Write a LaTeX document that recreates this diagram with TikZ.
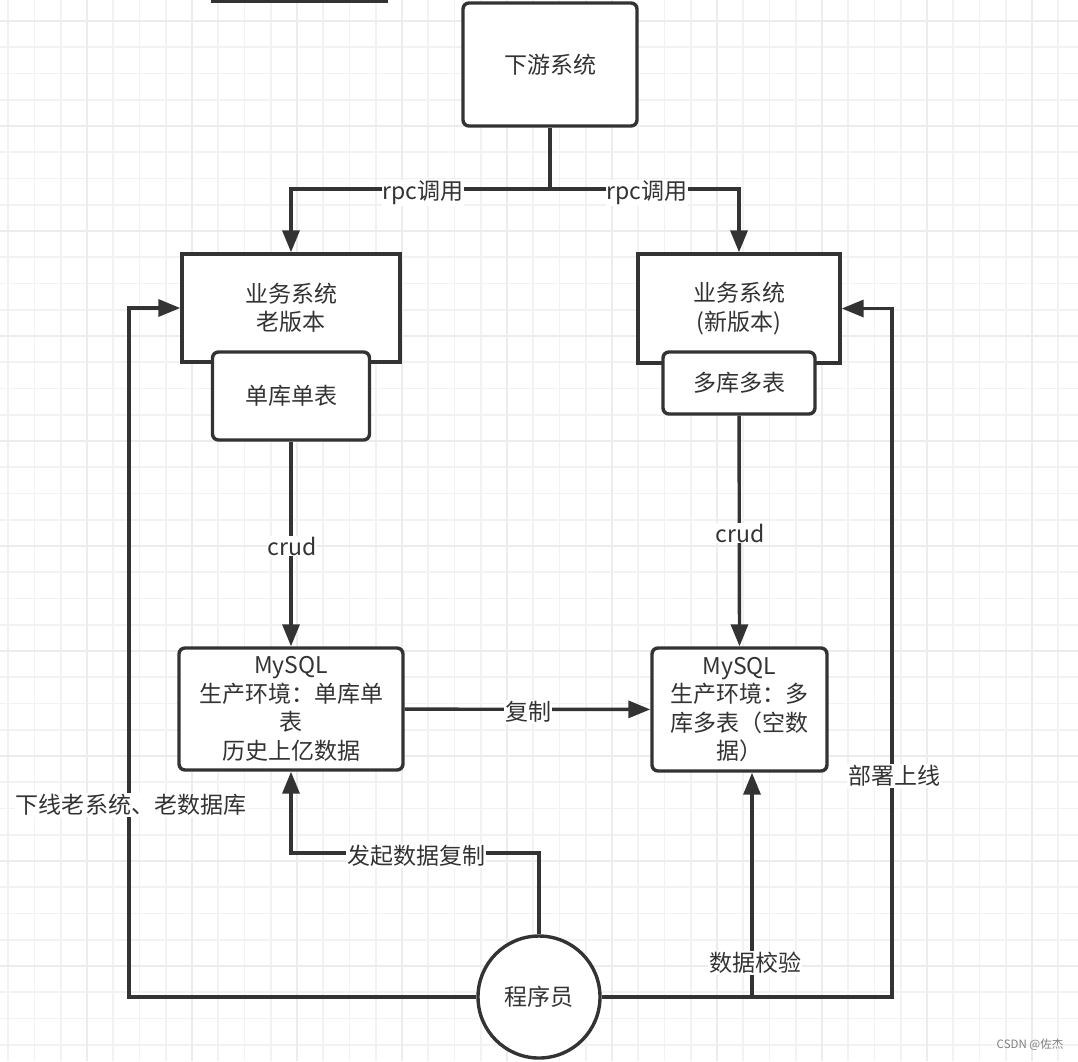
\documentclass[tikz,border=0pt]{standalone}
\usepackage{fontspec}
\setmainfont{Noto Sans CJK SC}
\usetikzlibrary{arrows.meta, positioning}
\definecolor{ink}{HTML}{333333}
\definecolor{gridminor}{HTML}{F2F2F2}
\definecolor{gridmajor}{HTML}{ECECEC}
\tikzset{
  box/.style={draw=ink, line width=3.4pt, fill=white, text=ink, inner sep=0pt, align=center,
    font=\fontsize{23}{28.5}\selectfont},
  roundbox/.style={box, rounded corners=6pt},
  lab/.style={fill=white, text=ink, inner sep=1pt, font=\fontsize{23}{28.5}\selectfont},
}
\begin{document}
\begin{tikzpicture}[x=1pt,y=-1pt,on grid,>={Triangle[length=22pt,width=17pt]}]
   \clip (0,0) rectangle (1078,1061);
   \fill[white] (0,0) rectangle (1078,1061);

   % Background grid
   \foreach \i in {0,...,41}
      \draw[gridminor, line width=1.6pt] (8.25+26.25*\i,0) -- (8.25+26.25*\i,1061);
   \foreach \i in {0,...,40}
      \draw[gridminor, line width=1.6pt] (0,21+26.25*\i-26.25) -- (1078,21+26.25*\i-26.25);
   \foreach \i in {0,...,9}
      \draw[gridmajor, line width=1.8pt] (87+105*\i,0) -- (87+105*\i,1061);
   \foreach \i in {0,...,10}
      \draw[gridmajor, line width=1.8pt] (0,21+105*\i) -- (1078,21+105*\i);

   % Boxes
   \node[box, minimum width=174pt, minimum height=60pt] (cropped) at (299.5,-29) {};
   \node[roundbox, minimum width=174pt, minimum height=123pt] (down) at (550,64.5) {下游系统};
   \node[box, minimum width=218pt, minimum height=108pt] (oldsys) at (291,308) {业务系统\\老版本};
   \node[box, minimum width=202pt, minimum height=109pt] (newsys) at (739,308.5) {业务系统\\(新版本)};
   \node[roundbox, minimum width=157pt, minimum height=88pt] (single) [below=88pt of oldsys] {单库单表};
   \node[roundbox, minimum width=152pt, minimum height=62pt] (multi) [below=74.5pt of newsys] {多库多表};
   \node[roundbox, minimum width=224pt, minimum height=122pt] (mysqlold) at (291,709) {MySQL\\生产环境：单库单\\表\\历史上亿数据};
   \node[roundbox, minimum width=175pt, minimum height=123pt] (mysqlnew) at (739.5,709.5) {MySQL\\生产环境：多\\库多表（空数\\据）};
   \node[box, circle, minimum size=122pt] (prog) at (539,997) {程序员};

   \coordinate (split) at (550,189);
   \coordinate (startcopy) at (416,853);
   \coordinate (leftrail) at (129,650);
   \coordinate (rightrail) at (892,650);

   \begin{scope}[draw=ink, line width=3.4pt, rounded corners=0pt]
      % From downstream system
      \draw (down) -- (split);
      \draw[->] (split) -| (oldsys.north);
      \draw[->] (split) -| (newsys.north);
      % Down to the databases
      \draw[->] (single) -- (mysqlold);
      \draw[->] (multi) -- (mysqlnew.north);
      \draw[->] (mysqlold) -- (mysqlnew);
      % From programmer
      \draw[->] (prog.north) |- (startcopy) -| (mysqlold.south);
      \draw[->] (prog.west) -| (leftrail) |- (oldsys.west);
      \draw[->] (prog.east) -| ([xshift=12.5pt]mysqlnew.south);
      \draw[->] (prog.east) -| (rightrail) |- (newsys.east);
   \end{scope}

   % Connector labels
   \node[lab] (rpcold) at (423,193) {rpc调用};
   \node[lab] (rpcnew) at (647,193) {rpc调用};
   \node[lab] (crudold) at (292,546) {crud};
   \node[lab] (crudnew) at (740,533) {crud};
   \node[lab] (copy) at (528,712) {复制};
   \node[lab] (startlab) at (416,856) {发起数据复制};
   \node[lab] (offline) at (131,805) {下线老系统、老数据库};
   \node[lab] (verify) at (755,963) {数据校验};
   \node[lab] (deploy) at (894,776) {部署上线};

   % Watermark
   \node[text=black!50, font=\fontsize{11.5}{14}\selectfont, inner sep=0pt] (mark) at (1030,1045) {CSDN @佐杰};
\end{tikzpicture}
\end{document}
